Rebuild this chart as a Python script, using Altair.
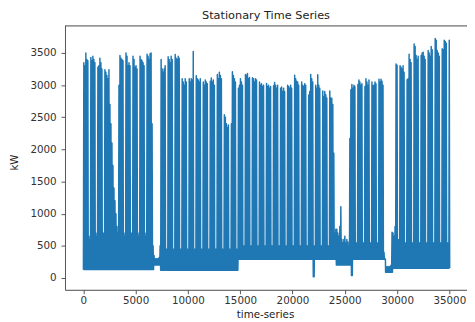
import altair as alt
import pandas as pd

# Daily peak value (kW) per week: Mon..Fri, Sat, Sun
week_tops = [
    [3350, 3300, 3500, 3400, 3380, 650, 600],
    [3430, 3380, 3450, 3400, 3350, 700, 650],
    [3280, 3300, 3420, 3350, 3250, 700, 700],
    [3240, 3200, 3150, 3100, 3240, 2700, 2400],
    [2100, 1750, 1400, 1200, 1000, 800, 700],
    [3000, 3460, 3420, 3400, 3380, 700, 650],
    [3500, 3450, 3300, 3350, 3300, 700, 700],
    [3450, 3400, 3280, 3300, 3250, 650, 700],
    [3450, 3400, 3380, 3350, 3300, 700, 650],
    [3480, 3450, 3400, 3490, 3500, 2400, 500],
    [350, 300, 300, 300, 300, 320, 500],
    [3400, 3250, 3200, 3250, 3300, 450, 450],
    [3440, 3400, 3350, 3450, 3400, 450, 450],
    [3475, 3420, 3400, 3450, 3420, 450, 450],
    [3100, 3050, 3000, 3100, 3050, 450, 450],
    [3100, 3050, 3100, 3080, 3525, 450, 450],
    [3145, 3100, 3080, 3050, 3100, 450, 450],
    [3050, 3000, 3080, 3050, 3020, 450, 450],
    [3060, 3110, 3050, 3080, 3000, 450, 450],
    [3165, 3100, 3200, 3150, 3100, 450, 450],
    [2540, 2500, 2400, 2340, 2380, 450, 450],
    [2400, 3207, 3150, 3100, 3050, 450, 450],
    [2950, 3000, 3100, 3050, 3000, 500, 500],
    [3165, 3150, 3180, 3100, 3120, 500, 500],
    [3115, 3100, 3050, 3100, 3080, 500, 500],
    [3050, 3000, 3020, 2980, 3000, 500, 500],
    [3025, 2980, 3000, 2950, 2980, 500, 500],
    [2990, 3040, 3000, 2950, 3000, 500, 500],
    [2950, 2970, 2900, 2950, 2900, 500, 500],
    [3000, 2980, 2950, 3000, 2950, 500, 500],
    [3155, 3100, 3060, 3050, 3000, 500, 500],
    [3050, 3000, 2980, 3020, 3000, 500, 500],
    [2845, 2900, 3165, 3100, 3050, 500, 500],
    [3000, 2950, 3163, 3000, 2950, 500, 500],
    [2910, 2820, 2900, 2850, 2800, 500, 500],
    [2910, 2800, 2795, 2700, 1940, 700, 760],
    [760, 700, 650, 800, 1110, 600, 550],
    [600, 650, 550, 600, 560, 500, 2170],
    [2930, 3010, 2950, 3000, 2980, 550, 550],
    [3010, 3080, 3050, 3000, 3020, 550, 550],
    [2980, 3100, 3050, 3000, 3080, 550, 550],
    [3050, 2990, 3000, 3050, 3020, 550, 550],
    [3090, 3050, 3090, 3060, 3000, 400, 300],
    [180, 170, 180, 170, 180, 200, 710],
    [700, 650, 800, 3330, 3310, 600, 600],
    [3300, 3280, 3250, 3300, 3200, 550, 550],
    [3085, 3100, 3480, 3400, 3350, 550, 550],
    [3640, 3600, 3460, 3400, 3450, 550, 550],
    [3460, 3500, 3510, 3450, 3400, 550, 550],
    [3540, 3500, 3450, 3600, 3550, 550, 550],
    [3725, 3700, 3540, 3500, 3450, 550, 550],
    [3565, 3550, 3700, 3680, 3650, 550, 550],
    [3700],
]

# Night-time floor (kW) per week
week_floor = [130] * 10 + [200] + [120] * 11 + [290] * 14 + [200] * 2 + \
             [290] * 5 + [90] + [150] * 9

# Isolated downward dips (day index, kW)
dip_days = [229, 267]
dip_vals = [20, 40]

# Sample positions (15-min steps) used inside each day: night, peak, night
day_positions = [8, 48, 88]

x_ticks = [0, 5000, 10000, 15000, 20000, 25000, 30000, 35000]
y_ticks = [0, 500, 1000, 1500, 2000, 2500, 3000, 3500]

rows = []
for w, tops in enumerate(week_tops):
    for i, top in enumerate(tops):
        d = 7 * w + i
        floor = week_floor[w]
        if d in dip_days:
            floor = dip_vals[dip_days.index(d)]
        for pos, val in zip(day_positions, [floor, top, floor]):
            rows.append({"t": 96 * d + pos, "kW": val})
df = pd.DataFrame(rows)

W, H = 409, 269
FONT = "DejaVu Sans"
AX = "#555555"

line = alt.Chart(df).mark_line(
    color="#1f77b4", strokeWidth=1.5, strokeJoin="round", clip=True
).encode(
    x=alt.X("t:Q",
            scale=alt.Scale(domain=[-1752, 36688], nice=False, zero=False),
            axis=alt.Axis(values=x_ticks, format="d", grid=False,
                          title="time-series", titleX=W / 2 - 1, titleY=25,
                          titleAlign="center", titleBaseline="middle",
                          titleFontWeight="normal", titleFontSize=10.5,
                          titleFont=FONT, titleColor="#222222",
                          labelFont=FONT, labelFontSize=10.5, labelColor="#333333",
                          labelPadding=2, tickSize=4, tickColor=AX,
                          domainColor=AX, domainWidth=1, labelFlush=False)),
    y=alt.Y("kW:Q",
            scale=alt.Scale(domain=[-184, 3929], nice=False, zero=False),
            axis=alt.Axis(values=y_ticks, format="d", grid=False,
                          title="kW", titleAngle=270, titleX=-51, titleY=139,
                          titleAlign="center", titleBaseline="middle",
                          titleFontWeight="normal", titleFontSize=10.5,
                          titleFont=FONT, titleColor="#222222",
                          labelFont=FONT, labelFontSize=10.5, labelColor="#333333",
                          labelPadding=5, tickSize=4, tickColor=AX,
                          domainColor=AX, domainWidth=1, labelFlush=False)),
)

top_spine = alt.Chart(pd.DataFrame({"a": [0]})).mark_rule(
    color=AX, strokeWidth=1
).encode(x=alt.value(0), x2=alt.value(W), y=alt.value(0.5))

chart = alt.layer(line, top_spine).properties(
    width=W, height=H,
    autosize=alt.AutoSizeParams(type="none"),
    padding={"left": 58, "top": 15, "right": 0, "bottom": 29},
    title=alt.TitleParams("Stationary Time Series", font=FONT, fontSize=11.5,
                          fontWeight="normal", color="#222222",
                          anchor="middle", baseline="alphabetic", offset=5,
                          dy=10),
).configure_view(stroke=None).configure(background="white")

chart.save("out.html", embed_options={"renderer": "svg", "actions": False})
